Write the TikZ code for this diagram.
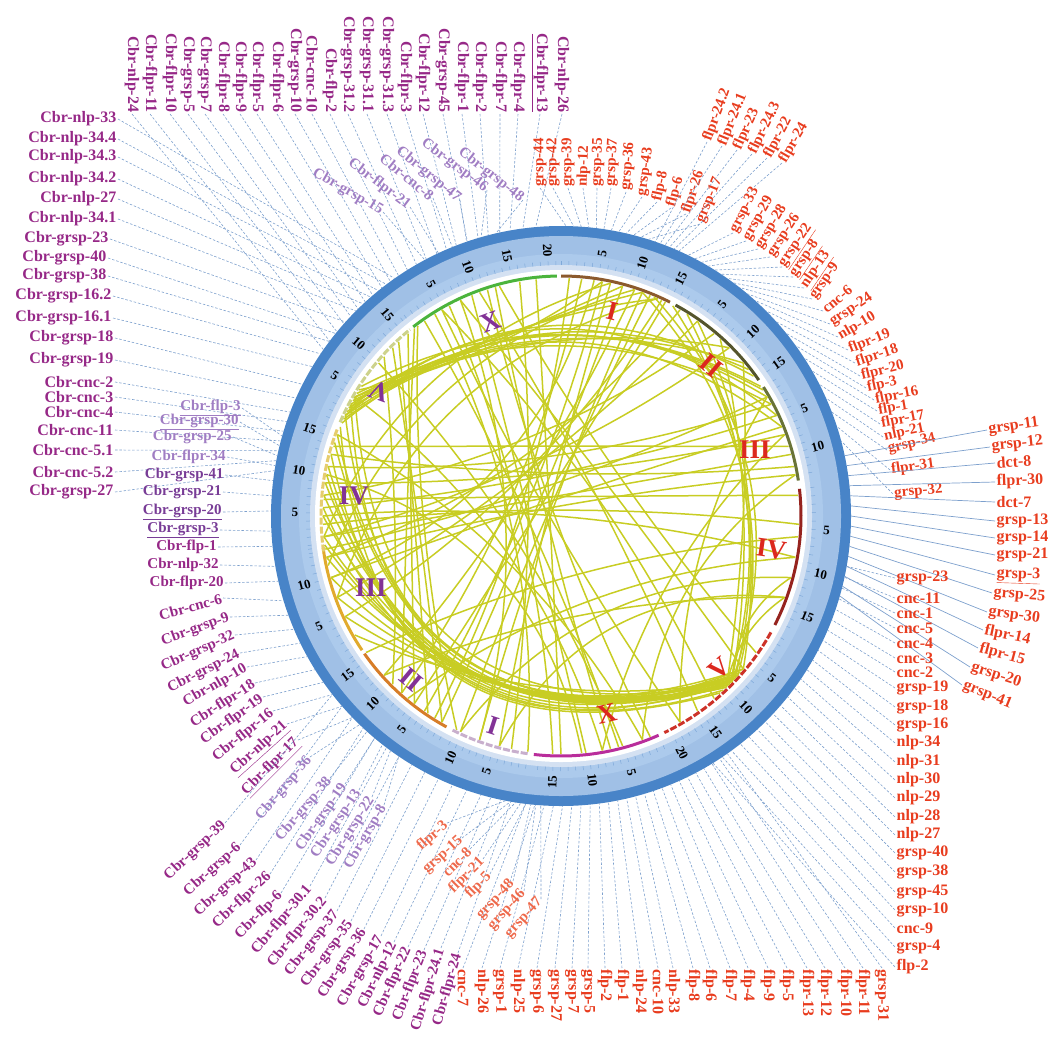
\documentclass[tikz,border=0pt]{standalone}
\usepackage{fontspec}
\setmainfont{Liberation Serif}
\usetikzlibrary{calc}
\definecolor{pur}{RGB}{150,40,135}
\definecolor{mpur}{RGB}{120,60,150}
\definecolor{lav}{RGB}{160,125,195}
\definecolor{red0}{RGB}{232,60,30}
\definecolor{lred}{RGB}{238,105,75}
\definecolor{cnline}{RGB}{125,160,205}
\definecolor{linkc}{RGB}{200,205,35}
\definecolor{ringD}{RGB}{72,132,200}
\definecolor{ringL}{RGB}{160,192,230}
\definecolor{ringL2}{RGB}{172,202,236}
\definecolor{ringI}{RGB}{212,225,242}
\definecolor{celI}{RGB}{140,90,45}
\definecolor{celII}{RGB}{85,85,45}
\definecolor{celIII}{RGB}{105,115,55}
\definecolor{celIV}{RGB}{150,35,30}
\definecolor{celV}{RGB}{205,50,40}
\definecolor{celX}{RGB}{185,45,155}
\definecolor{cbrI}{RGB}{200,175,205}
\definecolor{cbrII}{RGB}{215,125,40}
\definecolor{cbrIII}{RGB}{225,170,45}
\definecolor{cbrIV}{RGB}{230,205,110}
\definecolor{cbrV}{RGB}{205,210,140}
\definecolor{cbrX}{RGB}{75,180,60}
\definecolor{romR}{RGB}{220,40,30}
\definecolor{romP}{RGB}{130,50,150}
\tikzset{
 lab/.style={font={\fontsize{16}{17}\selectfont\bfseries}, inner sep=1.5pt},
 labs/.style={font={\fontsize{15}{16}\selectfont\bfseries}, inner sep=1.2pt},
 cn/.style={draw=cnline, line width=0.6pt, dash pattern=on 2.5pt off 1.8pt},
 cns/.style={draw=cnline, line width=0.7pt},
 lnk/.style={draw=linkc, line width=1.5pt},
 tk/.style={font={\fontsize{13}{13}\selectfont\bfseries}, inner sep=0pt},
 rom/.style={font={\fontsize{27}{27}\selectfont\bfseries}, inner sep=0pt},
 mt/.style={draw=ringD!70, line width=0.5pt},
 chrA/.style={line width=3pt},
 chrB/.style={line width=3pt, dash pattern=on 7pt off 2pt},
}
\begin{document}
\begin{tikzpicture}[x=1pt,y=1pt]
\useasboundingbox (0,0) rectangle (1056,-1041);
\coordinate (C) at (561,-516);
% ring
\fill[ringD] (C) circle (290);
\fill[ringL] (C) circle (280);
\fill[ringL2] (C) circle (262);
\fill[ringI] (C) circle (251);
\fill[white] (C) circle (246);
% chromosomes, ticks, numbers
\foreach \aS/\aE/\len/\nt/\nm/\col/\sty [count=\q] in {
 90/63/15.1/3/15/celI/chrA,
 61.5/34.5/15.3/3/15/celII/chrA,
 32.5/8.5/13.8/2/13/celIII/chrA,
 6.5/-27/17.5/3/17/celIV/chrA,
 -29/-64.5/20.9/4/20/celV/chrB,
 -66/-96.5/17.7/3/17/celX/chrA,
 262/243/11.5/2/11/cbrI/chrB,
 241.5/215/16/3/16/cbrII/chrA,
 214/187.5/14/2/14/cbrIII/chrA,
 188.5/158.5/16.3/3/16/cbrIV/chrB,
 157/129/16/3/16/cbrV/chrB,
 128/91/21.1/4/21/cbrX/chrA}{
 \draw[\sty,draw=\col] ($(C)+(\aS:240)$) arc[start angle=\aS,end angle=\aE,radius=240];
 \pgfmathsetmacro\stp{(\aS-\aE)/\len}
 \foreach \m in {0,...,\nm}{
   \pgfmathsetmacro\am{\aS-\m*\stp}
   \draw[mt] ($(C)+(\am:251)$) -- ($(C)+(\am:255)$);
 }
 \foreach \k in {1,...,\nt}{
   \pgfmathsetmacro\am{\aS-5*\k*\stp}
   \pgfmathsetmacro\rot{cos(\am)>=0 ? \am : \am+180}
   \pgfmathtruncatemacro\num{5*\k}
   \node[tk,rotate=\rot] (tk\q-\k) at ($(C)+(\am:266)$) {\num};
 }
}
% links
\begin{scope}[shift={(561,-516)}]
\foreach \pa/\pb/\rr in {
 154/30/250, 152/33/240, 150/28/225, 155/36/260, 149/40/215, 153/25/270, 151/45/205, 156/22/255, 147/32/235, 157/38/245,
 153/70/200, 150/75/185, 155/66/210, 148/80/170,
 150/316/300, 155/318/310, 160/314/290, 165/316/320, 170/315/300, 175/317/280, 180/316/270, 185/315/260, 190/318/250, 195/316/240,
 200/317/230, 205/315/220, 210/316/200, 158/312/330, 162/320/300, 172/319/290, 178/313/285, 187/320/265, 152/314/315, 168/318/305,
 118/268/20, 112/276/30, 122/262/20, 106/282/20, 100/258/20, 115/250/20, 125/284/20, 108/292/20, 96/270/10, 120/300/20,
 80/235/20, 75/240/20, 70/250/20, 85/228/30, 68/245/20, 72/222/30, 78/255/20, 88/238/20, 64/232/20,
 172/20/30, 178/25/30, 185/15/20, 168/28/40, 182/-2/20, 190/10/20, 176/5/20, 165/12/30, 195/22/20, 188/30/20, 163/17/70, 180/-10/20,
 130/232/150, 133/236/145, 128/228/155, 135/240/140, 127/244/150, 138/225/160,
 67/-44/250, 70/-42/240, 62/-45/230, 55/-43/220, 48/-44/200, 40/-46/190, 58/-40/215,
 60/190/40, 55/200/40, 50/175/60, 65/205/30, 45/185/40, 82/195/30,
 350/230/60, 345/245/60, 340/222/80, 340/255/70, 355/215/40,
 290/160/40, 280/150/30, 275/170/30, 285/140/30,
 115/-40/60, 120/-50/60, 105/-35/60, 110/-55/50,
 20/-80/100, 10/-70/110, 30/-60/120, -15/-44/200, -20/-46/210,
 72/192/220, 78/185/230, 66/200/210}{
 \pgfmathsetmacro\mm{(\pa+\pb)/2}
 \pgfmathsetmacro\xa{238*cos(\pa)/3+2*\rr*cos(\mm)/3}
 \pgfmathsetmacro\ya{238*sin(\pa)/3+2*\rr*sin(\mm)/3}
 \pgfmathsetmacro\xb{238*cos(\pb)/3+2*\rr*cos(\mm)/3}
 \pgfmathsetmacro\yb{238*sin(\pb)/3+2*\rr*sin(\mm)/3}
 \draw[lnk] (\pa:238) .. controls (\xa,\ya) and (\xb,\yb) .. (\pb:238);
}
\end{scope}
% roman numerals
\foreach \tx/\an/\rad/\ro/\cl [count=\ii] in {
 I/76/211/-14/romR, II/45/213/-40/romR, III/19/205/0/romR, IV/-9/213/-8/romR, V/-44/220/40/romR, X/-77/203/13/romR,
 X/110/207/20/romP, V/145.5/220/160/romP, IV/174.5/208/0/romP, III/200.6/203/0/romP, II/227.5/222/-40/romP, I/252/220/-18/romP}{
 \node[rom,text=\cl,rotate=\ro] (rm\ii) at ($(C)+(\an:\rad)$) {\tx};
}
% ---------- labels ----------
% left outer
\foreach \tx/\x/\y/\an [count=\ii] in {
 Cbr-nlp-33/118/119/125, Cbr-nlp-34.4/118/139/127, Cbr-nlp-34.3/118/157/129, Cbr-nlp-34.2/118/179/131,
 Cbr-nlp-27/118/199/133, Cbr-nlp-34.1/118/219/135, Cbr-grsp-23/110/239/138, Cbr-grsp-40/108/258/141,
 Cbr-grsp-38/108/276/143, Cbr-grsp-16.2/113/296/146, Cbr-grsp-16.1/113/318/149, Cbr-grsp-18/115/338/153,
 Cbr-grsp-19/115/360/156, Cbr-cnc-2/115/382/159, Cbr-cnc-3/115/397/161, Cbr-cnc-4/115/412/163,
 Cbr-cnc-11/115/430/165, Cbr-cnc-5.1/115/450/167, Cbr-cnc-5.2/115/472/169, Cbr-grsp-27/115/492/171}{
 \node[lab,text=pur,anchor=east] (lo\ii) at (\x,-\y) {\tx};
 \coordinate (lot\ii) at ($(C)+(\an:290)$);
 \draw[cn] (lo\ii.east) -- (lot\ii);
}
% left inner
\foreach \tx/\x/\y/\an/\cl [count=\ii] in {
 \underline{Cbr-flp-3}/242/408/164/lav, \underline{Cbr-grsp-30}/240/422/166/lav, Cbr-grsp-25/233/437/168/lav,
 Cbr-flpr-34/227/457/170/lav, Cbr-grsp-41/225/475/173/mpur, Cbr-grsp-21/223/492/176/mpur,
 \underline{Cbr-grsp-20}/223/512/179/mpur, \underline{Cbr-grsp-3}/220/530/183/mpur, Cbr-flp-1/218/547/186/pur,
 Cbr-nlp-32/220/565/190/pur, Cbr-flpr-20/225/583/193/pur}{
 \node[labs,text=\cl,anchor=east] (li\ii) at (\x,-\y) {\tx};
 \coordinate (lit\ii) at ($(C)+(\an:290)$);
 \draw[cn] (li\ii.east) -- (lit\ii);
}
% bottom-left tilted
\foreach \tx/\x/\y/\ro/\an/\cl [count=\ii] in {
 Cbr-cnc-6/223/598/15/197/pur, Cbr-grsp-9/230/617/20/200/pur, Cbr-grsp-32/235/635/24/203/pur,
 Cbr-grsp-24/240/653/27/206/pur, Cbr-nlp-10/247/667/30/209/pur, Cbr-flpr-18/255/683/33/212/pur,
 Cbr-flpr-19/263/697/36/215/pur, Cbr-flpr-16/273/711/39/218/pur, \underline{Cbr-nlp-21}/287/724/42/221/pur,
 \underline{Cbr-flpr-17}/298/740/45/224/pur,
 Cbr-grsp-36/310/757/50/226/lav, Cbr-grsp-38/330/778/50/228/lav, Cbr-grsp-19/345/784/55/230/lav,
 Cbr-grsp-13/359/790/56/232/lav, Cbr-grsp-22/372/797/58/234/lav, Cbr-grsp-8/384/805/60/236/lav,
 Cbr-grsp-39/225/823/43/218/pur, Cbr-grsp-6/240/845/42/221/pur, Cbr-grsp-43/256/860/42/224/pur,
 Cbr-flpr-26/270/874/43/227/pur, Cbr-flp-6/281/893/45/230/pur, Cbr-flpr-30.1/310/886/50/233/pur,
 Cbr-flpr-30.2/325/898/51/236/pur, Cbr-grsp-37/337/911/52/239/pur, Cbr-grsp-35/351/921/54/242/pur,
 Cbr-grsp-36/364/929/58/245/pur, Cbr-grsp-17/381/936/60/248/pur, Cbr-nlp-12/394/942/64/251/pur,
 Cbr-flpr-22/408/947/66/254/pur, Cbr-flpr-23/424/950/69/256/pur, Cbr-flpr-24.1/441/948/73/258/pur,
 Cbr-flpr-24/458/953/74/260/pur}{
 \node[labs,text=\cl,anchor=east,rotate=\ro] (bl\ii) at (\x,-\y) {\tx};
 \coordinate (blt\ii) at ($(C)+(\an:290)$);
 \draw[cn] (bl\ii.east) -- (blt\ii);
}
% top row (purple, vertical)
\foreach \tx/\x [count=\ii] in {
 Cbr-nlp-24/132, Cbr-flpr-11/150, Cbr-flpr-10/170, Cbr-grsp-5/188, Cbr-grsp-7/205, Cbr-flpr-8/223,
 Cbr-flpr-9/240, Cbr-flpr-5/257, Cbr-flpr-6/277, Cbr-grsp-10/295, Cbr-cnc-10/312, Cbr-flp-2/330,
 Cbr-grsp-31.2/348, Cbr-grsp-31.1/367, Cbr-grsp-31.3/387, Cbr-flpr-3/405, Cbr-flpr-12/423, Cbr-grsp-45/443,
 Cbr-flpr-1/462, Cbr-flpr-2/480, Cbr-flpr-7/500, Cbr-flpr-4/518, \underline{Cbr-flpr-13}/540, Cbr-nlp-26/562}{
 \pgfmathsetmacro\an{145-(\x-132)*0.11628}
 \node[lab,text=pur,anchor=east,rotate=-90] (tp\ii) at (\x,-114) {\tx};
 \coordinate (tpt\ii) at ($(C)+(\an:290)$);
 \draw[cn] (tp\ii.east) -- (tpt\ii);
}
% top-left inner lavender
\foreach \tx/\x/\y/\ro/\an [count=\ii] in {
 Cbr-grsp-48/523/200/-38/103, Cbr-grsp-46/487/190/-37/106, Cbr-grsp-47/460/200/-39/109,
 Cbr-cnc-8/433/198/-39/112, Cbr-flpr-21/410/207/-37/115, Cbr-grsp-15/383/212/-30/118}{
 \node[labs,text=lav,anchor=east,rotate=\ro] (tl\ii) at (\x,-\y) {\tx};
 \coordinate (tlt\ii) at ($(C)+(\an:290)$);
 \draw[cn] (tl\ii.east) -- (tlt\ii);
}
% right side red labels (anchor west)
\foreach \tx/\x/\y/\ro/\an [count=\ii] in {
 grsp-44/540/188/90/89, grsp-42/553/188/90/87.5, grsp-39/568/188/90/86, nlp-12/583/188/88/84.5,
 grsp-35/597/188/88/83, grsp-37/611/188/87/81.5, grsp-36/626/192/85/80, grsp-43/642/197/82/78.5,
 flp-8/657/202/78/77, flp-6/671/208/75/75.5, flpr-26/686/214/72/74, grsp-17/700/224/68/72.5,
 flpr-24.2/707/142/70/71, flpr-24.1/722/146/68/70, flpr-23/737/150/66/69, flpr-24.3/752/154/64/68,
 flpr-22/767/158/62/67, flpr-24/782/163/60/66,
 grsp-33/733/233/63/64, grsp-29/746/241/61/62.5, grsp-28/758/249/59/61, grsp-26/770/257/57/59.5,
 \underline{grsp-22}/782/267/56/58, \underline{grsp-8}/793/277/56/56.5, \underline{nlp-13}/804/288/56/55, grsp-9/812/299/55/53.5,
 cnc-6/823/311/40/52, grsp-24/830/324/34/50, nlp-10/838/337/30/48, flpr-19/848/350/22/45,
 flpr-18/855/363/18/42, flpr-20/860/376/14/39, flp-3/866/388/12/36, flpr-16/874/400/11/33,
 flp-1/877/411/10/30, flpr-17/880/424/11/27, nlp-21/883/437/12/24, grsp-34/887/450/14/21,
 flpr-31/890/470/8/18, grsp-32/893/494/5/15}{
 \node[labs,text=red0,anchor=west,rotate=\ro] (rt\ii) at (\x,-\y) {\tx};
 \coordinate (rtt\ii) at ($(C)+(\an:290)$);
 \draw[cn] (rt\ii.west) -- (rtt\ii);
}
% right outer
\foreach \tx/\x/\y/\ro/\an [count=\ii] in {
 grsp-11/987/430/8/12, grsp-12/990/447/6/10, dct-8/995/463/4/8, flpr-30/995/482/2/6, dct-7/995/502/0/4,
 grsp-13/995/521/0/2, grsp-14/995/538/0/0, grsp-21/995/555/0/-2, \underline{grsp-3}/995/575/-2/-4,
 grsp-25/992/593/-5/-6, grsp-30/987/612/-8/-8, flpr-14/983/630/-12/-10, flpr-15/978/648/-15/-12,
 grsp-20/970/667/-18/-14, grsp-41/962/685/-22/-16}{
 \node[lab,text=red0,anchor=west,rotate=\ro] (ro\ii) at (\x,-\y) {\tx};
 \coordinate (rot\ii) at ($(C)+(\an:290)$);
 \draw[cns] (ro\ii.west) -- (rot\ii);
}
% right inner column
\foreach \tx/\y [count=\ii] in {
 grsp-23/578, cnc-11/598, cnc-1/613, cnc-5/628, cnc-4/643, cnc-3/658, cnc-2/672, grsp-19/688,
 grsp-18/707, grsp-16/725, nlp-34/743, nlp-31/762, nlp-30/780, nlp-29/798, nlp-28/817, nlp-27/835,
 grsp-40/853, grsp-38/872, grsp-45/892, grsp-10/910, cnc-9/928, grsp-4/947, flp-2/967}{
 \pgfmathsetmacro\an{-10-(\ii-1)*2.2}
 \node[lab,text=red0,anchor=west] (ri\ii) at (895,-\y) {\tx};
 \coordinate (rit\ii) at ($(C)+(\an:290)$);
 \draw[cn] (ri\ii.west) -- (rit\ii);
}
% bottom row
\foreach \tx/\x [count=\ii] in {
 cnc-7/463, nlp-26/482, grsp-1/500, nlp-25/518, grsp-6/537, grsp-27/555, grsp-7/572, grsp-5/588,
 flp-2/605, flp-1/622, nlp-24/640, cnc-10/658, nlp-33/673, flp-8/693, flp-6/710, flp-7/730,
 flp-4/748, flp-9/768, flp-5/787, flpr-13/807, flpr-12/825, flpr-10/845, flpr-11/863, grsp-31/882}{
 \pgfmathsetmacro\an{-97+(\ii-1)*1.826}
 \node[lab,text=red0,anchor=west,rotate=-90] (bt\ii) at (\x,-968) {\tx};
 \coordinate (btt\ii) at ($(C)+(\an:290)$);
 \draw[cn] (bt\ii.west) -- (btt\ii);
}
% bottom inner diagonal red
\foreach \tx/\x/\y/\ro/\an [count=\ii] in {
 flpr-3/447/823/42/-101, grsp-15/462/838/42/-100, cnc-8/470/849/45/-99, flpr-21/483/859/45/-98,
 flp-5/490/874/45/-97, grsp-48/513/881/47/-96, grsp-46/524/891/48/-95, grsp-47/541/899/48/-94}{
 \node[labs,text=lred,anchor=east,rotate=\ro] (bd\ii) at (\x,-\y) {\tx};
 \coordinate (bdt\ii) at ($(C)+(\an:290)$);
 \draw[cn] (bd\ii.east) -- (bdt\ii);
}
\end{tikzpicture}
\end{document}
